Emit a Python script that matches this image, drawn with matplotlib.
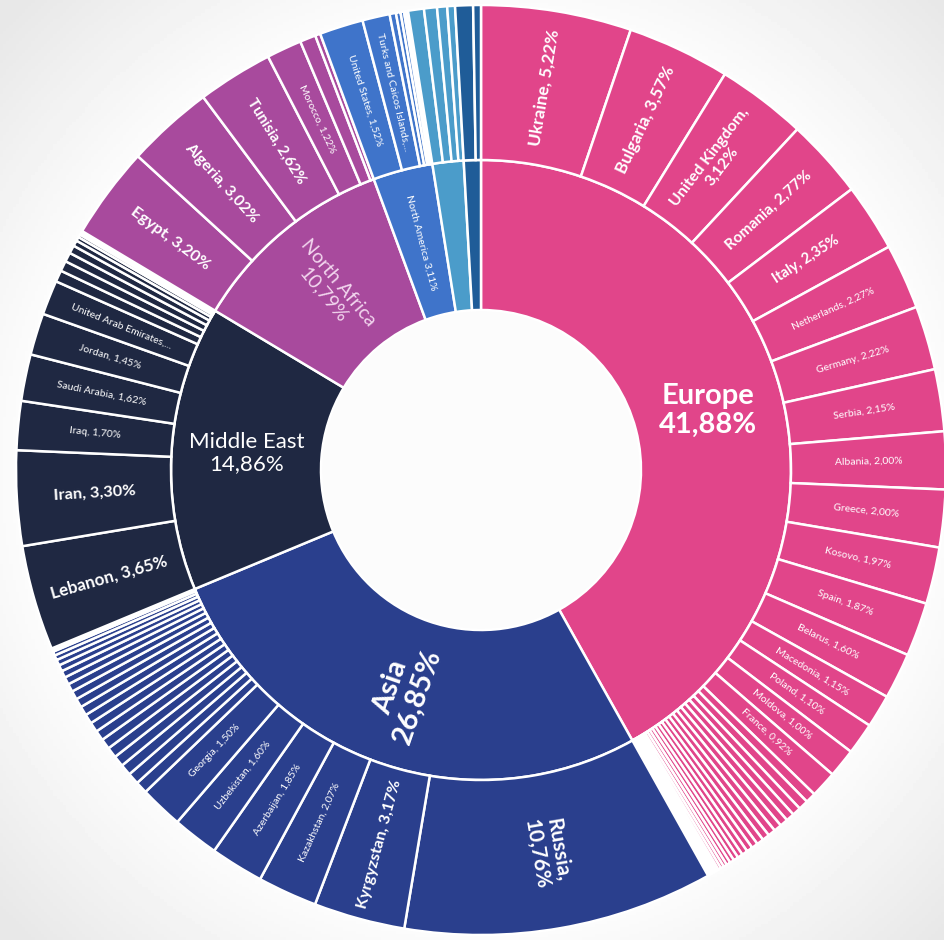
import numpy as np
import matplotlib
matplotlib.use("Agg")
import matplotlib.pyplot as plt

plt.rcParams['font.family'] = ['Lato', 'DejaVu Sans']

# ---------------------------------------------------------------------------
# Data (shares in %)
# ---------------------------------------------------------------------------
regions = ["Europe", "Asia", "Middle East", "North Africa", "North America", "", ""]
region_share = [41.88, 26.85, 14.86, 10.79, 3.11, 1.62, 0.89]
region_colors = ["#E1458A", "#2A3F8D", "#1F2842", "#A84A9D", "#3F74CA", "#4B9CCA", "#1F5C98"]

europe_names = ["Ukraine", "Bulgaria", "United Kingdom", "Romania", "Italy", "Netherlands",
                "Germany", "Serbia", "Albania", "Greece", "Kosovo", "Spain", "Belarus",
                "Macedonia", "Poland", "Moldova", "France"]
europe_vals = [5.22, 3.57, 3.12, 2.77, 2.35, 2.27, 2.22, 2.15, 2.00, 2.00, 1.97, 1.87, 1.60,
               1.15, 1.10, 1.00, 0.92]
europe_small = [0.36, 0.34, 0.30, 0.29, 0.28, 0.27, 0.26, 0.25, 0.24, 0.22, 0.21, 0.20, 0.18,
                0.17, 0.15, 0.14, 0.12, 0.11, 0.10, 0.08, 0.07, 0.06, 0.05, 0.04, 0.03, 0.02,
                0.02, 0.02, 0.01, 0.01]

asia_names = ["Russia", "Kyrgyzstan", "Kazakhstan", "Azerbaijan", "Uzbekistan", "Georgia"]
asia_vals = [10.76, 3.17, 2.07, 1.85, 1.60, 1.50]
asia_small = [0.42, 0.40, 0.39, 0.38, 0.37, 0.36, 0.35, 0.34, 0.33, 0.32, 0.31, 0.30, 0.28,
              0.26, 0.24, 0.22, 0.20, 0.17, 0.14, 0.06, 0.03, 0.02, 0.01]

mideast_names = ["Lebanon", "Iran", "Iraq", "Saudi Arabia", "Jordan", "United Arab Emirates"]
mideast_vals = [3.65, 3.30, 1.70, 1.62, 1.45, 1.20]
mideast_small = [0.40, 0.36, 0.32, 0.28, 0.20, 0.14, 0.10, 0.07, 0.04, 0.03]

nafrica_names = ["Egypt", "Algeria", "Tunisia", "Morocco"]
nafrica_vals = [3.20, 3.02, 2.62, 1.22]
nafrica_small = [0.55, 0.18]

namerica_names = ["United States", "Turks and Caicos Islands"]
namerica_vals = [1.52, 0.95]
namerica_small = [0.22, 0.16, 0.12, 0.08, 0.06]

other1_small = [0.55, 0.45, 0.35, 0.27]
other2_small = [0.62, 0.27]

wrapped = {"United Kingdom", "Russia"}
truncated = {"United Arab Emirates", "Turks and Caicos Islands"}

groups = [(europe_names, europe_vals, europe_small),
          (asia_names, asia_vals, asia_small),
          (mideast_names, mideast_vals, mideast_small),
          (nafrica_names, nafrica_vals, nafrica_small),
          (namerica_names, namerica_vals, namerica_small),
          ([], [], other1_small),
          ([], [], other2_small)]

outer_vals, outer_names, outer_colors = [], [], []
for (names, vals, small), col in zip(groups, region_colors):
    outer_vals += vals + small
    outer_names += names + [""] * len(small)
    outer_colors += [col] * (len(vals) + len(small))


def pct(v):
    return f"{v:.2f}".replace(".", ",") + "%"


# ---------------------------------------------------------------------------
# Canvas (axes units = pixels, centre of the rings at the origin)
# ---------------------------------------------------------------------------
R_OUT, R_MID, R_IN = 465, 310, 160
fig = plt.figure(figsize=(9.44, 9.40), dpi=100)
ax = fig.add_axes([0, 0, 1, 1])

# soft photographic-like background: white halo fading to light grey
xx, yy = np.meshgrid(np.linspace(-481, 463, 300), np.linspace(470, -470, 300))
dist = np.hypot(xx, yy)
bg = 0.985 - 0.075 * np.clip((dist - 470) / 180, 0, 1)
ax.imshow(bg, extent=(-481, 463, -470, 470), cmap="gray", vmin=0, vmax=1,
          zorder=0, aspect="auto")

wp = dict(edgecolor="white", linewidth=1.8)
inner, _ = ax.pie(region_share, radius=R_MID, colors=region_colors, startangle=90,
                  counterclock=False, wedgeprops=dict(width=R_MID - R_IN, **wp))
outer, _ = ax.pie(outer_vals, radius=R_OUT, colors=outer_colors, startangle=90,
                  counterclock=False, wedgeprops=dict(width=R_OUT - R_MID, **wp))

ax.set_xlim(-481, 463)
ax.set_ylim(-470, 470)
ax.set_aspect("equal")
ax.axis("off")


def radial_rot(a):
    a = a % 360
    return a - 180 if 90 < a < 270 else a


# ---------------------------------------------------------------------------
# Outer ring labels
# ---------------------------------------------------------------------------
r_lab = (R_OUT + R_MID) / 2
for w, name, v in zip(outer, outer_names, outer_vals):
    if not name:
        continue
    a = (w.theta1 + w.theta2) / 2
    x, y = r_lab * np.cos(np.radians(a)), r_lab * np.sin(np.radians(a))
    if name in truncated:
        txt = f"{name},..."
    elif name in wrapped:
        txt = f"{name},\n{pct(v)}"
    else:
        txt = f"{name}, {pct(v)}"
    if v > 8:
        size, weight = 15, "bold"
    elif v >= 2.3:
        size, weight = min(12.5, 7.5 + 1.3 * v), "bold"
    else:
        size, weight = 7.5, "normal"
    ax.text(x, y, txt, ha="center", va="center", rotation=radial_rot(a),
            rotation_mode="anchor", fontsize=size, fontweight=weight,
            color="white", linespacing=1.1, zorder=5)

# ---------------------------------------------------------------------------
# Inner ring labels
# ---------------------------------------------------------------------------
horizontal = {"Europe", "Middle East"}
inner_style = {"Europe": (21, "bold", "white"),
               "Asia": (21, "bold", "white"),
               "Middle East": (16, "normal", "white"),
               "North Africa": (14, "normal", "#F2D6EE"),
               "North America": (7.5, "normal", "white")}
r_in_lab = (R_MID + R_IN) / 2
for w, name, v in zip(inner, regions, region_share):
    if not name:
        continue
    a = (w.theta1 + w.theta2) / 2
    x, y = r_in_lab * np.cos(np.radians(a)), r_in_lab * np.sin(np.radians(a))
    size, weight, col = inner_style[name]
    rot = 0 if name in horizontal else radial_rot(a)
    txt = f"{name} {pct(v)}" if name == "North America" else f"{name}\n{pct(v)}"
    ax.text(x, y, txt, ha="center", va="center", rotation=rot,
            rotation_mode="anchor", fontsize=size, fontweight=weight,
            color=col, linespacing=1.15, zorder=5)

fig.savefig("out.png", dpi=100, facecolor="#F2F2F2")
